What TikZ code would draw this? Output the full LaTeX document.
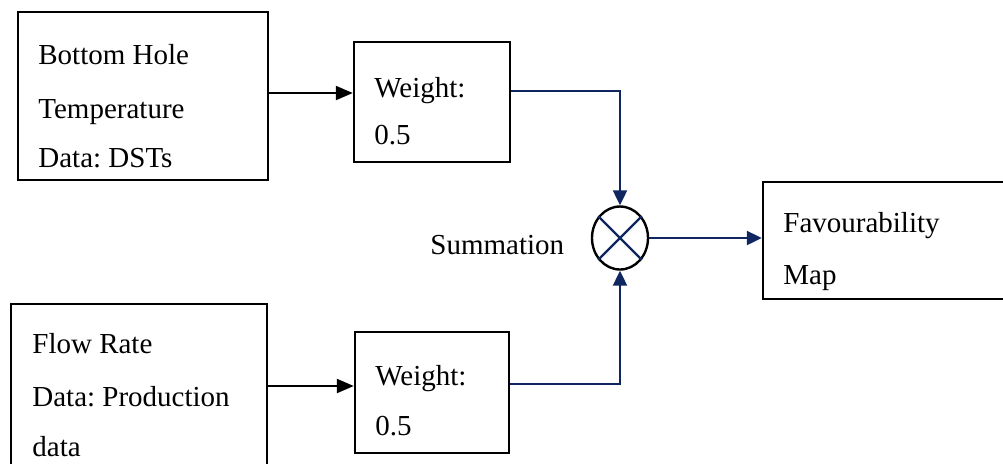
\documentclass[tikz,border=0pt]{standalone}
\usepackage{fontspec}
\setmainfont{Liberation Serif}
\usetikzlibrary{shapes.geometric,arrows.meta}
\definecolor{navy}{RGB}{16,38,96}
\frenchspacing
\tikzset{
  box/.style={draw=black,line width=1.2pt,rectangle,inner sep=0pt},
  txt/.style={anchor=base west,inner sep=0pt,font=\fontsize{14.5pt}{17pt}\selectfont},
  blk/.style={draw=black,line width=1.1pt,-{Triangle[length=8.5pt,width=7pt]}},
  blu/.style={draw=navy,line width=1.1pt,-{Triangle[length=7.5pt,width=7pt]}},
}
\begin{document}
\begin{tikzpicture}[x=0.5pt,y=-0.5pt]
\useasboundingbox (0,0) rectangle (1003,463);
% boxes
\node[box,minimum width=125pt,minimum height=84pt] (b1) at (143,96) {};
\node[box,minimum width=78pt,minimum height=60pt] (w1) at (432,102) {};
\node[box,minimum width=128pt,minimum height=90pt] (b2) at (139,394) {};
\node[box,minimum width=77pt,minimum height=60.5pt] (w2) at (432,392.5) {};
\node[draw=black,line width=1.2pt,ellipse,minimum width=28pt,minimum height=31.5pt,inner sep=0pt] (sum) at (620,238) {};
\node[box,minimum width=124pt,minimum height=58.5pt] (fav) at (887,240.5) {};
% cross
\draw[navy,line width=1.1pt] (sum.45) -- (sum.225);
\draw[navy,line width=1.1pt] (sum.135) -- (sum.315);
% texts
\node[txt] (t1) at (38,64) {Bottom Hole};
\node[txt] (t2) at (38,118) {Temperature};
\node[txt] (t3) at (38,167) {Data: DSTs};
\node[txt] (t4) at (374,97) {Weight:};
\node[txt] (t5) at (374,144) {0.5};
\node[txt] (t6) at (32,353) {Flow Rate};
\node[txt] (t7) at (32,406) {Data: Production};
\node[txt] (t8) at (32,456) {data};
\node[txt] (t9) at (375,385) {Weight:};
\node[txt] (t10) at (375,435) {0.5};
\node[txt] (t11) at (430,254) {Summation};
\node[txt] (t12) at (783,232) {Favourability};
\node[txt] (t13) at (783,284) {Map};
% connectors
\path ([yshift=1.5pt]b1.east) coordinate (a1);
\draw[blk] (a1) -- (a1 -| w1.west);
\path ([yshift=4pt]b2.east) coordinate (a2);
\draw[blk] (a2) -- (a2 -| w2.west);
\path ([yshift=5.5pt]w1.east) coordinate (c1);
\draw[blu] (c1) -| (sum.north);
\path ([yshift=4.25pt]w2.east) coordinate (c2);
\draw[blu] (c2) -| (sum.south);
\draw[blu] (sum.east) -- (sum.east -| fav.west);
\end{tikzpicture}
\end{document}
